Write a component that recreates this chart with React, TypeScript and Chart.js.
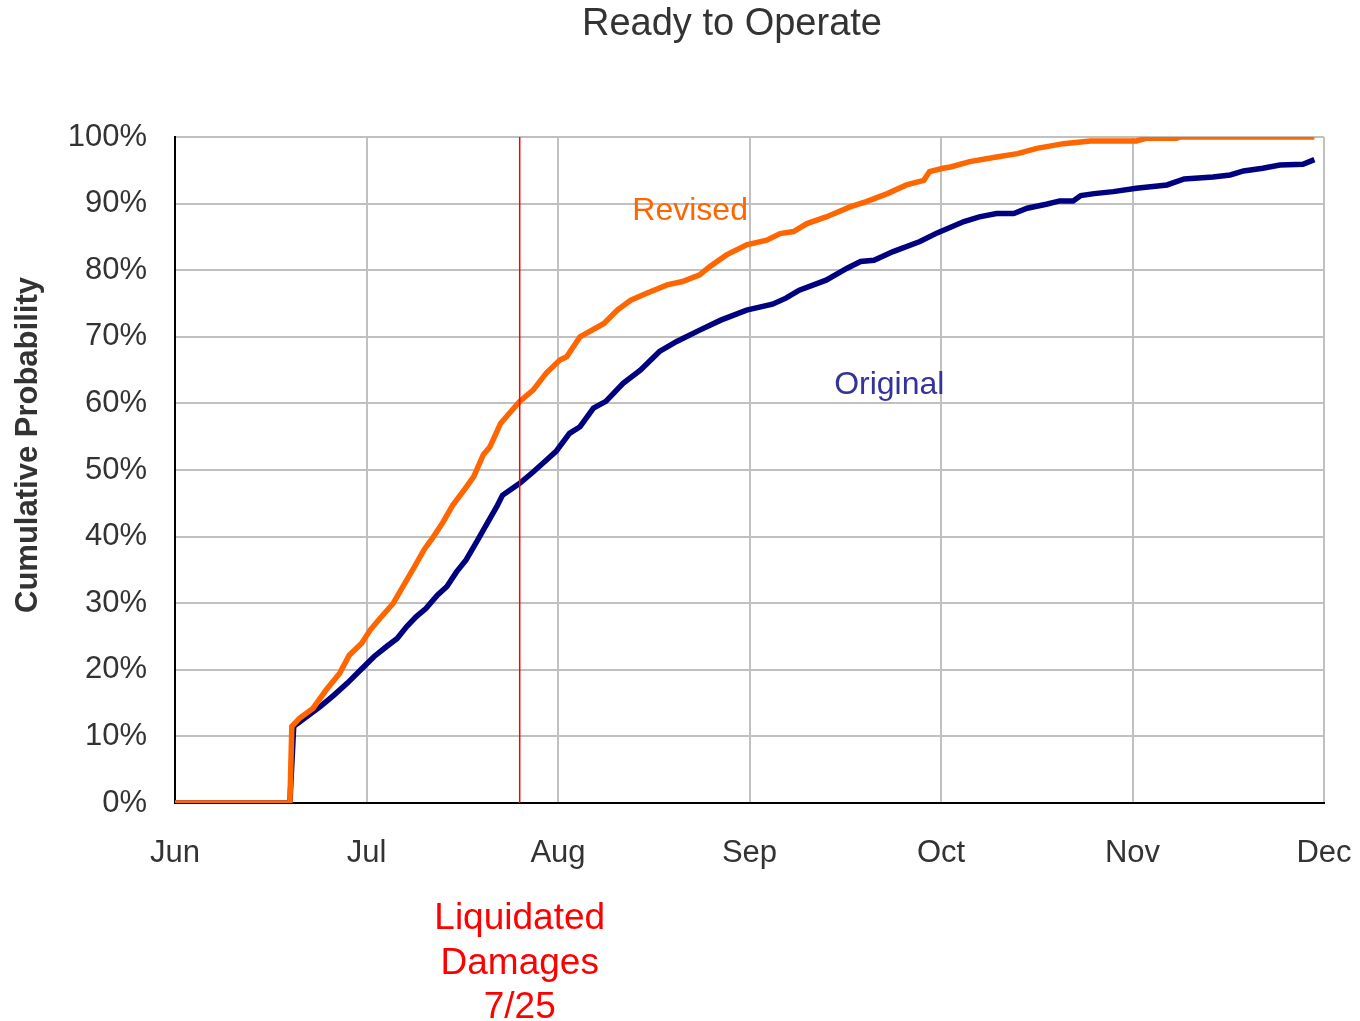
import React, { useEffect, useRef } from "react";
import { Chart, registerables } from "chart.js";

Chart.register(...registerables);

// Month tick labels (x axis in months since Jun 1)
const monthLabels = ["Jun", "Jul", "Aug", "Sep", "Oct", "Nov", "Dec"];

// Revised curve (x in months since Jun 1, y in %)
const revisedX = [0, 0.6, 0.61, 0.65, 0.72, 0.79, 0.86, 0.91, 0.975, 1.02, 1.07, 1.14, 1.19, 1.245, 1.3, 1.35, 1.4, 1.45, 1.51, 1.56, 1.61, 1.645, 1.7, 1.77, 1.8, 1.87, 1.94, 2.01, 2.045, 2.115, 2.24, 2.31, 2.38, 2.46, 2.57, 2.65, 2.74, 2.79, 2.88, 2.985, 3.09, 3.16, 3.23, 3.3, 3.4, 3.525, 3.61, 3.72, 3.82, 3.91, 3.94, 4.01, 4.05, 4.15, 4.29, 4.4, 4.5, 4.64, 4.78, 5.02, 5.07, 5.23, 5.25, 5.95];
const revisedY = [0, 0, 11.5, 12.7, 14.2, 17.0, 19.5, 22.2, 24.0, 26.0, 27.7, 30.0, 32.5, 35.2, 38.0, 40.0, 42.2, 44.7, 47.0, 49.0, 52.3, 53.5, 57.0, 59.3, 60.3, 62.0, 64.6, 66.5, 67.0, 70.0, 72.0, 74.0, 75.5, 76.5, 77.8, 78.3, 79.3, 80.5, 82.3, 83.8, 84.5, 85.5, 85.8, 87.0, 88.0, 89.5, 90.3, 91.5, 92.8, 93.5, 94.8, 95.3, 95.5, 96.3, 97.0, 97.5, 98.3, 99.0, 99.4, 99.4, 99.8, 99.8, 100, 100];

// Original curve
const originalX = [0, 0.6, 0.62, 0.76, 0.83, 0.9, 0.97, 1.04, 1.105, 1.16, 1.21, 1.26, 1.31, 1.37, 1.42, 1.47, 1.52, 1.575, 1.63, 1.68, 1.71, 1.8, 1.87, 1.94, 1.99, 2.06, 2.115, 2.185, 2.25, 2.34, 2.43, 2.53, 2.62, 2.74, 2.85, 2.985, 3.12, 3.19, 3.26, 3.4, 3.51, 3.58, 3.65, 3.75, 3.89, 3.98, 4.12, 4.2, 4.29, 4.38, 4.45, 4.55, 4.62, 4.69, 4.73, 4.8, 4.9, 5.02, 5.18, 5.27, 5.42, 5.51, 5.58, 5.68, 5.77, 5.89, 5.95];
const originalY = [0, 0, 11.5, 14.5, 16.2, 18.0, 20.0, 22.0, 23.5, 24.7, 26.5, 28.0, 29.2, 31.2, 32.5, 34.7, 36.5, 39.2, 42.0, 44.5, 46.2, 48.0, 49.7, 51.5, 52.8, 55.5, 56.5, 59.3, 60.3, 63.0, 65.0, 67.8, 69.3, 71.0, 72.5, 74.0, 74.9, 75.8, 77.0, 78.5, 80.3, 81.3, 81.5, 82.8, 84.3, 85.6, 87.3, 88.0, 88.5, 88.5, 89.3, 89.9, 90.4, 90.4, 91.2, 91.5, 91.8, 92.3, 92.8, 93.7, 94.0, 94.3, 94.9, 95.3, 95.8, 95.9, 96.6];

// Liquidated damages date (7/25) in months since Jun 1
const ldX = 1.8;
const ldLines = ["Liquidated", "Damages", "7/25"];

// Series label anchor positions (data coords)
const revisedLabel = { text: "Revised", x: 2.69, y: 88.9 };
const originalLabel = { text: "Original", x: 3.73, y: 62.8 };

const FONT = "'Liberation Sans', Arial, sans-serif";

const toPts = (xs: number[], ys: number[]) => xs.map((x, i) => ({ x, y: ys[i] }));

export default function App() {
  const ref = useRef<HTMLCanvasElement | null>(null);

  useEffect(() => {
    document.body.style.margin = "0";
    const canvas = ref.current;
    if (!canvas) return;

    const overlay = {
      id: "overlay",
      afterDatasetsDraw(chart: any) {
        const ctx = chart.ctx;
        const xs = chart.scales.x;
        const ca = chart.chartArea;
        ctx.save();
        const px = xs.getPixelForValue(ldX);
        ctx.strokeStyle = "#FF0000";
        ctx.lineWidth = 1.5;
        ctx.beginPath();
        ctx.moveTo(px, ca.top);
        ctx.lineTo(px, ca.bottom);
        ctx.stroke();
        ctx.restore();
      },
      afterDraw(chart: any) {
        const ctx = chart.ctx;
        const xs = chart.scales.x;
        const ys = chart.scales.y;
        ctx.save();
        ctx.textAlign = "center";
        ctx.textBaseline = "middle";
        // title
        ctx.fillStyle = "#333333";
        ctx.font = `38px ${FONT}`;
        ctx.fillText("Ready to Operate", 732, 25);
        // y axis title
        ctx.save();
        ctx.translate(28, 445);
        ctx.rotate(-Math.PI / 2);
        ctx.font = `bold 31px ${FONT}`;
        ctx.fillStyle = "#333333";
        ctx.fillText("Cumulative Probability", 0, 0);
        ctx.restore();
        // series labels
        ctx.font = `32px ${FONT}`;
        ctx.fillStyle = "#FF6600";
        ctx.fillText(revisedLabel.text, xs.getPixelForValue(revisedLabel.x), ys.getPixelForValue(revisedLabel.y));
        ctx.fillStyle = "#333399";
        ctx.fillText(originalLabel.text, xs.getPixelForValue(originalLabel.x), ys.getPixelForValue(originalLabel.y));
        // LD annotation
        ctx.font = `37px ${FONT}`;
        ctx.fillStyle = "#FF0000";
        const lx = xs.getPixelForValue(ldX);
        ldLines.forEach((t, i) => ctx.fillText(t, lx, 919 + i * 44.5));
        ctx.restore();
      },
    };

    const chart = new Chart(canvas, {
      type: "line",
      data: {
        datasets: [
          {
            label: "Revised",
            data: toPts(revisedX, revisedY),
            borderColor: "#FF6600",
            borderWidth: 5.5,
            pointRadius: 0,
            tension: 0,
            fill: false,
          },
          {
            label: "Original",
            data: toPts(originalX, originalY),
            borderColor: "#000080",
            borderWidth: 5.5,
            pointRadius: 0,
            tension: 0,
            fill: false,
          },
        ],
      },
      options: {
        animation: false,
        responsive: false,
        maintainAspectRatio: false,
        layout: { padding: { left: 0, top: 137, right: 36, bottom: 0 } },
        plugins: { legend: { display: false }, tooltip: { enabled: false }, title: { display: false } },
        scales: {
          x: {
            type: "linear",
            min: 0,
            max: 6,
            afterFit: (s: any) => {
              s.height = 1021 - 803;
              s.paddingLeft = 0;
              s.paddingRight = 0;
            },
            ticks: {
              stepSize: 1,
              autoSkip: false,
              maxRotation: 0,
              padding: 32,
              color: "#333333",
              font: { family: FONT, size: 31 },
              callback: (v: any) => monthLabels[Math.round(Number(v))] ?? "",
            },
            grid: { color: "#C0C0C0", lineWidth: 2, drawTicks: false },
            border: { color: "#000000", width: 2 },
          },
          y: {
            min: 0,
            max: 100,
            afterFit: (s: any) => {
              s.width = 175;
            },
            ticks: {
              stepSize: 10,
              padding: 28,
              color: "#333333",
              font: { family: FONT, size: 31 },
              callback: (v: any) => `${v}%`,
            },
            grid: { color: "#C0C0C0", lineWidth: 2, drawTicks: false },
            border: { color: "#000000", width: 2 },
          },
        },
      },
      plugins: [overlay],
    });
    return () => chart.destroy();
  }, []);

  return (
    <div style={{ width: 1360, height: 1021, position: "relative", background: "#fff" }}>
      <canvas ref={ref} width={1360} height={1021} style={{ display: "block" }} />
    </div>
  );
}
